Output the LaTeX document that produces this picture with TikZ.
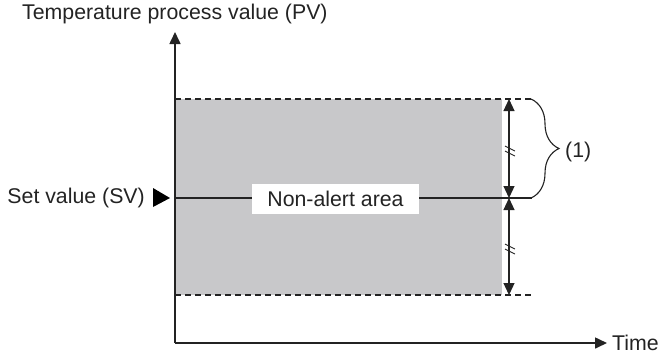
\documentclass[tikz,border=0pt]{standalone}
\usepackage{fontspec}
\setmainfont{Liberation Sans}
\usetikzlibrary{arrows.meta, positioning, decorations.pathreplacing}
\definecolor{bandGray}{RGB}{200, 200, 202}
\definecolor{inkGray}{RGB}{35, 35, 35}

\begin{document}
\begin{tikzpicture}[
    x=1pt, y=-1pt,
    label/.style={font=\fontsize{21.3}{25}\selectfont, text=inkGray, inner sep=0pt},
    axis/.style={-{Triangle[length=12pt, width=11pt]}, line width=1.6pt, inkGray},
    dimarrow/.style={{Triangle[length=12pt, width=11pt]}-{Triangle[length=12pt, width=11pt]}, line width=1.2pt, inkGray},
    limit/.style={dash pattern=on 6pt off 4pt, line width=1.3pt, inkGray}
]
\useasboundingbox (0,0) rectangle (661,360);

% Band around the set value
\fill[bandGray] (175,99) rectangle (502,295);

% Axes
\coordinate (origin) at (175,343);
\coordinate (ytip)   at (175,32);
\coordinate (xtip)   at (607,343);
\draw[axis] (origin) -- (ytip);
\draw[axis] (origin) -- (xtip);
\node[label, anchor=south west] (pvlabel) at (22,24) {Temperature process value (PV)};
\node[label, anchor=west] (timelabel) at (612,343) {Time};

% Upper and lower limits (dashed)
\coordinate (upL) at (175,99);  \coordinate (upR) at (532,99);
\coordinate (loL) at (175,295); \coordinate (loR) at (532,295);
\draw[limit] (upL) -- (upR);
\draw[limit] (loL) -- (loR);

% Set value line
\coordinate (svL) at (175,198); \coordinate (svR) at (532,198);
\draw[line width=1.2pt, inkGray] (svL) -- (svR);
\fill[black] (153,188) -- (170,198) -- (153,207) -- cycle;
\node[label, anchor=east] (svlabel) at (145,198) {Set value (SV)};
\node[label, fill=white, minimum width=167pt, minimum height=30pt] (nonalert) at (335.5,199) {Non-alert area};

% Width of the band
\coordinate (dimTop) at (509,99);
\coordinate (dimMid) at (509,198);
\coordinate (dimBot) at (509,295);
\draw[dimarrow] (dimTop) -- (dimMid);
\draw[dimarrow] (dimMid) -- (dimBot);
\foreach \y in {146,151,244,249}
    \draw[line width=0.9pt, inkGray] (505,\y) -- (515,\y+5);

% Brace for (1)
\coordinate (brTop) at (531,99);
\coordinate (brBot) at (531,198);
\draw[line width=1.1pt, inkGray, decorate, decoration={brace, amplitude=28pt}] (brTop) -- (brBot);
\node[label, anchor=west] (onelabel) at (565,152) {(1)};

\end{tikzpicture}
\end{document}
